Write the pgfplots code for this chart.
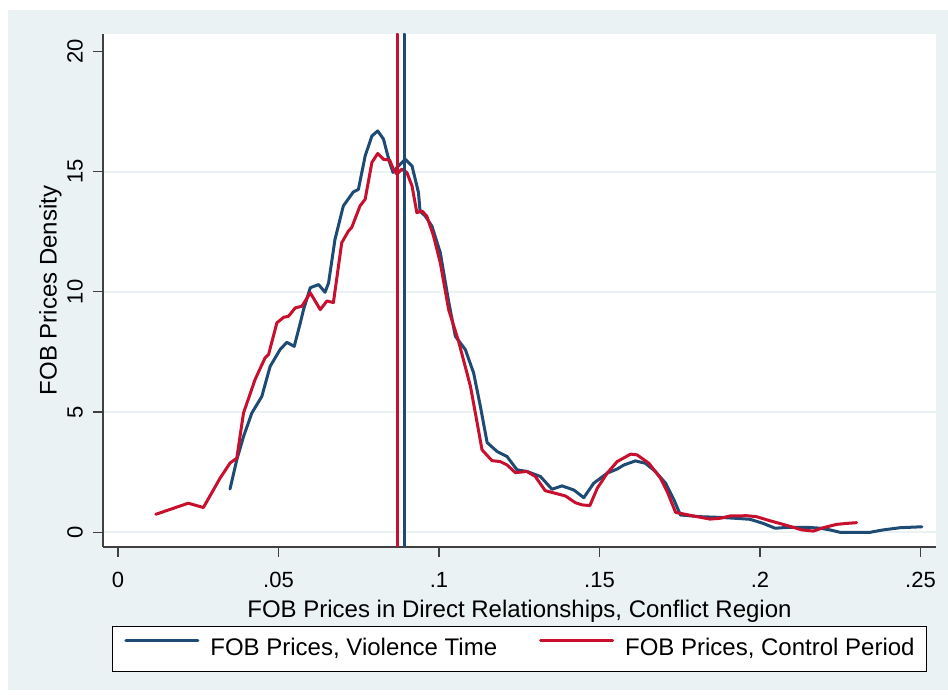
\documentclass[border=0pt]{standalone}
\usepackage{fontspec}
\setmainfont{Liberation Sans}
\usepackage{pgfplots}
\pgfplotsset{compat=1.18}
\definecolor{bgc}{RGB}{234,242,243}
\definecolor{vblue}{RGB}{30,75,115}
\definecolor{cred}{RGB}{200,16,46}
\begin{document}
\begin{tikzpicture}[x=1pt,y=1pt]
\path[use as bounding box] (0,0) rectangle (948,695);
\fill[bgc] (8,5) rectangle (948,685);
\begin{axis}[
  at={(103pt,148pt)}, anchor=south west,
  scale only axis, width=833pt, height=513pt,
  xmin=-0.00467, xmax=0.25483, ymin=-0.611, ymax=20.72,
  axis lines*=left,
  axis line style={black!75, line width=1.2pt},
  axis background/.style={fill=white},
  tick style={black!75, line width=1.2pt},
  major tick length=10pt, tick align=outside,
  xtick={0,0.05,0.1,0.15,0.2,0.25},
  xticklabels={0,.05,.1,.15,.2,.25},
  ytick={0,5,10,15},
  yticklabels={0,5,10,15},
  extra y ticks={20},
  extra y tick labels={20},
  extra y tick style={grid=none},
  ymajorgrids,
  major grid style={bgc, line width=2pt},
  ticklabel style={font=\fontsize{22}{26}\selectfont, inner sep=0pt},
  xticklabel style={anchor=north},
  yticklabel style={rotate=90, anchor=south},
  xticklabel shift=15pt,
  yticklabel shift=10pt,
  label style={font=\fontsize{24}{28}\selectfont, inner sep=0pt},
  xlabel={FOB Prices in Direct Relationships, Conflict Region},
  ylabel={FOB Prices Density},
  xlabel style={at={(axis description cs:0.5,-0.1365)}, anchor=base},
  ylabel style={at={(axis description cs:-0.0556,0.5)}, anchor=base},
  legend columns=2,
  legend image code/.code={\draw[#1] (0pt,8.5pt) -- (72pt,8.5pt);},
  legend style={at={(axis description cs:0.5,-0.1995)}, anchor=center,
    draw=black, line width=1pt, fill=white,
    font=\fontsize{24}{28}\selectfont,
    inner xsep=12pt, inner ysep=11.5pt, column sep=11pt,
    /tikz/every even column/.append style={column sep=42pt},
    nodes={inner sep=0pt, text height=17pt, text depth=5pt}},
  every axis plot/.append style={line join=round, line cap=round},
]
\addplot[vblue, line width=3pt] coordinates {
(0.0349,1.80) (0.0370,3.01) (0.0391,3.98) (0.0417,4.96) (0.0448,5.65)
(0.0474,6.90) (0.0505,7.60) (0.0526,7.90) (0.0549,7.73) (0.0568,8.71)
(0.0578,9.26) (0.0599,10.17) (0.0625,10.30) (0.0645,9.98) (0.0656,10.37)
(0.0676,12.18) (0.0702,13.57) (0.0733,14.15) (0.0749,14.26) (0.0770,15.65)
(0.0791,16.48) (0.0809,16.69) (0.0827,16.35) (0.0846,15.38) (0.0857,14.96)
(0.0869,15.17) (0.0895,15.51) (0.0916,15.23) (0.0936,14.13) (0.0941,13.36)
(0.0957,13.15) (0.0978,12.73) (0.1004,11.63) (0.1030,9.60) (0.1051,8.15)
(0.1082,7.60) (0.1108,6.62) (0.1129,5.23) (0.1150,3.73) (0.1181,3.36)
(0.1212,3.15) (0.1243,2.60) (0.1274,2.53) (0.1316,2.32) (0.1352,1.79)
(0.1383,1.93) (0.1420,1.76) (0.1451,1.44) (0.1482,2.04) (0.1524,2.46)
(0.1555,2.63) (0.1576,2.80) (0.1612,2.97) (0.1643,2.87) (0.1674,2.53)
(0.1706,2.04) (0.1732,1.35) (0.1752,0.72) (0.1813,0.65) (0.1875,0.62)
(0.1927,0.58) (0.1969,0.54) (0.2010,0.37) (0.2047,0.17) (0.2093,0.21)
(0.2145,0.21) (0.2187,0.17) (0.2218,0.10) (0.2249,0.00) (0.2343,0.00)
(0.2384,0.10) (0.2436,0.19) (0.2504,0.23)
};
\addlegendentry{FOB Prices, Violence Time}
\addplot[cred, line width=3pt] coordinates {
(0.0118,0.75) (0.0173,1.00) (0.0219,1.21) (0.0266,1.03) (0.0318,2.25)
(0.0349,2.88) (0.0370,3.08) (0.0391,4.96) (0.0427,6.35) (0.0458,7.25)
(0.0469,7.39) (0.0495,8.71) (0.0516,8.94) (0.0531,8.98) (0.0552,9.33)
(0.0573,9.40) (0.0599,9.96) (0.0630,9.26) (0.0651,9.62) (0.0671,9.55)
(0.0697,12.04) (0.0718,12.53) (0.0728,12.67) (0.0754,13.57) (0.0770,13.85)
(0.0791,15.38) (0.0809,15.75) (0.0827,15.51) (0.0846,15.48) (0.0858,15.10)
(0.0869,14.89) (0.0884,15.10) (0.0900,14.96) (0.0916,14.40) (0.0931,13.29)
(0.0947,13.36) (0.0962,13.15) (0.0983,12.32) (0.1004,11.21) (0.1030,9.26)
(0.1061,7.94) (0.1098,6.07) (0.1119,4.54) (0.1134,3.43) (0.1165,2.98)
(0.1191,2.94) (0.1212,2.80) (0.1238,2.48) (0.1274,2.53) (0.1300,2.32)
(0.1331,1.73) (0.1363,1.62) (0.1394,1.51) (0.1425,1.23) (0.1446,1.14)
(0.1470,1.11) (0.1493,1.83) (0.1524,2.46) (0.1555,2.94) (0.1597,3.25)
(0.1617,3.22) (0.1654,2.87) (0.1690,2.25) (0.1711,1.69) (0.1737,0.83)
(0.1763,0.76) (0.1792,0.68) (0.1844,0.55) (0.1875,0.58) (0.1907,0.68)
(0.1958,0.69) (0.1989,0.65) (0.2031,0.48) (0.2072,0.33) (0.2103,0.21)
(0.2130,0.10) (0.2166,0.05) (0.2197,0.19) (0.2239,0.33) (0.2270,0.37)
(0.2301,0.40)
};
\addlegendentry{FOB Prices, Control Period}
\addplot[cred, line width=3pt, forget plot] coordinates {(0.0872,-0.611) (0.0872,20.72)};
\addplot[vblue, line width=3pt, forget plot] coordinates {(0.0891,-0.611) (0.0891,20.72)};
\end{axis}
\end{tikzpicture}
\end{document}
